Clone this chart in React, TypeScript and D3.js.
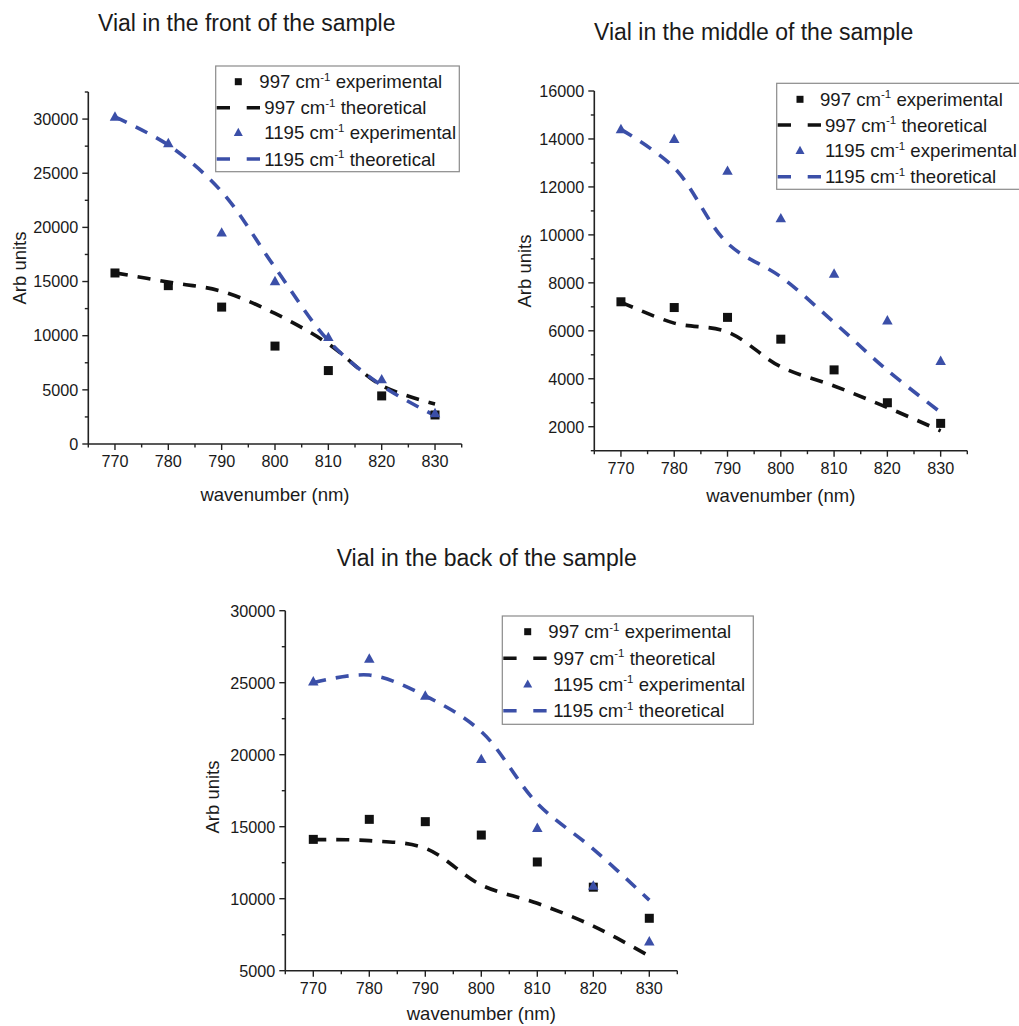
import React from "react";
import * as d3 from "d3";

// ---------- data ----------
const wavelengths = [770, 780, 790, 800, 810, 820, 830];
const xMajorTicks = [770, 780, 790, 800, 810, 820, 830];
const xMinorTicks = [765, 775, 785, 795, 805, 815, 825, 835];

const panelTitles = [
  "Vial in the front of the sample",
  "Vial in the middle of the sample",
  "Vial in the back of the sample",
];

const xAxisTitle = "wavenumber (nm)";
const yAxisTitle = "Arb units";

const legendNumbers = ["997", "997", "1195", "1195"];
const legendSuffix = [" experimental", " theoretical", " experimental", " theoretical"];

// Front
const frontExp997 = [15790, 14620, 12640, 9040, 6780, 4440, 2680];
const frontTheo997 = [15800, 14950, 14100, 12050, 9250, 5400, 3700];
const frontExp1195 = [30200, 27750, 19500, 15000, 9850, 5950, 2830];
const frontTheo1195 = [30200, 27600, 23300, 16300, 9550, 5400, 2620];
const frontYMajor = [0, 5000, 10000, 15000, 20000, 25000, 30000];
const frontYMinor = [2500, 7500, 12500, 17500, 22500, 27500, 32500];

// Middle
const middleExp997 = [7210, 6970, 6560, 5650, 4370, 3000, 2140];
const middleTheo997 = [7200, 6320, 5950, 4500, 3700, 2800, 1830];
const middleExp1195 = [14400, 13990, 12660, 10680, 8370, 6420, 4730];
const middleTheo1195 = [14400, 12800, 9650, 8250, 6350, 4350, 2600];
const middleYMajor = [2000, 4000, 6000, 8000, 10000, 12000, 14000, 16000];
const middleYMinor = [1000, 3000, 5000, 7000, 9000, 11000, 13000, 15000];

// Back
const backExp997 = [14120, 15510, 15350, 14420, 12550, 10800, 8640];
const backTheo997 = [14100, 14030, 13500, 10950, 9680, 8100, 6020];
const backExp1195 = [25070, 26650, 24080, 19680, 14900, 10880, 7010];
const backTheo1195 = [25000, 25530, 24080, 21600, 16620, 13450, 9900];
const backYMajor = [5000, 10000, 15000, 20000, 25000, 30000];
const backYMinor = [7500, 12500, 17500, 22500, 27500];

// ---------- styles ----------
const BLUE = "#3b4fa8";
const BLACK = "#111111";
const TEXT = "#1a1a1a";
const FONT = "'Liberation Sans', Arial, Helvetica, sans-serif";

type PanelCfg = {
  title: string;
  titleX: number;
  titleY: number;
  x0: number;
  x1: number;
  yBottom: number;
  yTop: number;
  yDomain: [number, number];
  yMajor: number[];
  yMinor: number[];
  exp997: number[];
  theo997: number[];
  exp1195: number[];
  theo1195: number[];
  xLabelY: number;
  yLabelX: number;
  yLabelY: number;
  legend: {
    left: number;
    top: number;
    right: number;
    bottom: number;
    rows: number[];
    symX: number;
    textX: number;
  };
};

const panels: PanelCfg[] = [
  {
    title: panelTitles[0],
    titleX: 98,
    titleY: 31,
    x0: 88.3,
    x1: 461.7,
    yBottom: 444,
    yTop: 92,
    yDomain: [0, 32500],
    yMajor: frontYMajor,
    yMinor: frontYMinor,
    exp997: frontExp997,
    theo997: frontTheo997,
    exp1195: frontExp1195,
    theo1195: frontTheo1195,
    xLabelY: 501,
    yLabelX: 19,
    yLabelY: 268,
    legend: {
      left: 215.7,
      top: 66,
      right: 459.3,
      bottom: 171.7,
      rows: [81.7, 107.7, 132.7, 159],
      symX: 238.3,
      textX: 259.3,
    },
  },
  {
    title: panelTitles[1],
    titleX: 594,
    titleY: 39.5,
    x0: 594.3,
    x1: 967.3,
    yBottom: 450.7,
    yTop: 91,
    yDomain: [1000, 16000],
    yMajor: middleYMajor,
    yMinor: middleYMinor,
    exp997: middleExp997,
    theo997: middleTheo997,
    exp1195: middleExp1195,
    theo1195: middleTheo1195,
    xLabelY: 501.7,
    yLabelX: 524,
    yLabelY: 271,
    legend: {
      left: 776.7,
      top: 83.3,
      right: 1030,
      bottom: 189.3,
      rows: [99.3, 125, 150.7, 176.7],
      symX: 800,
      textX: 820,
    },
  },
  {
    title: panelTitles[2],
    titleX: 336.7,
    titleY: 565.7,
    x0: 285.3,
    x1: 677.3,
    yBottom: 970.7,
    yTop: 610.7,
    yDomain: [5000, 30000],
    yMajor: backYMajor,
    yMinor: backYMinor,
    exp997: backExp997,
    theo997: backTheo997,
    exp1195: backExp1195,
    theo1195: backTheo1195,
    xLabelY: 1020,
    yLabelX: 212,
    yLabelY: 797,
    legend: {
      left: 502.3,
      top: 616,
      right: 753.3,
      bottom: 724.3,
      rows: [631.7, 658.3, 684.3, 710.7],
      symX: 527.7,
      textX: 548.3,
    },
  },
];

const DASH = "13 10";
const LINE_W = 3.6;

function Square({ cx, cy, s = 9 }: { cx: number; cy: number; s?: number }) {
  return <rect x={cx - s / 2} y={cy - s / 2} width={s} height={s} fill={BLACK} />;
}

function Triangle({ cx, cy, w = 10.5 }: { cx: number; cy: number; w?: number }) {
  const h = w * 0.9;
  const d = `M${cx},${cy - h * 0.6}L${cx + w / 2},${cy + h * 0.4}L${cx - w / 2},${cy + h * 0.4}Z`;
  return <path d={d} fill={BLUE} />;
}

function LegendLabel({ x, y, num, rest }: { x: number; y: number; num: string; rest: string }) {
  return (
    <text x={x} y={y} fontSize={18.6} fill={TEXT} fontFamily={FONT}>
      <tspan>{num} cm</tspan>
      <tspan fontSize={11.5} dy={-7.5}>-1</tspan>
      <tspan dy={7.5}>{rest}</tspan>
    </text>
  );
}

function Panel({ cfg }: { cfg: PanelCfg }) {
  const x = d3.scaleLinear().domain([765, 835]).range([cfg.x0, cfg.x1]);
  const y = d3.scaleLinear().domain(cfg.yDomain).range([cfg.yBottom, cfg.yTop]);
  const line = d3
    .line<number>()
    .x((_, i) => x(wavelengths[i]))
    .y((d) => y(d))
    .curve(d3.curveCatmullRom.alpha(0.5));

  const lg = cfg.legend;
  const capHalf = 6.6;

  return (
    <g>
      <text x={cfg.titleX} y={cfg.titleY} fontSize={23} fill={TEXT} fontFamily={FONT}>
        {cfg.title}
      </text>

      {/* axes */}
      <line x1={cfg.x0} x2={cfg.x0} y1={cfg.yTop} y2={cfg.yBottom} stroke="#222" strokeWidth={1.6} />
      <line x1={cfg.x0} x2={cfg.x1} y1={cfg.yBottom} y2={cfg.yBottom} stroke="#222" strokeWidth={1.6} />

      {xMajorTicks.map((t) => (
        <g key={"xm" + t}>
          <line x1={x(t)} x2={x(t)} y1={cfg.yBottom} y2={cfg.yBottom + 6} stroke="#222" strokeWidth={1.4} />
          <text
            x={x(t)}
            y={cfg.yBottom + 23}
            fontSize={16.2}
            textAnchor="middle"
            fill={TEXT}
            fontFamily={FONT}
          >
            {t}
          </text>
        </g>
      ))}
      {xMinorTicks.map((t) => (
        <line key={"xn" + t} x1={x(t)} x2={x(t)} y1={cfg.yBottom} y2={cfg.yBottom + 3.5} stroke="#222" strokeWidth={1.4} />
      ))}
      {cfg.yMajor.map((t) => (
        <g key={"ym" + t}>
          <line x1={cfg.x0 - 6} x2={cfg.x0} y1={y(t)} y2={y(t)} stroke="#222" strokeWidth={1.4} />
          <text
            x={cfg.x0 - 10}
            y={y(t) + 5.8}
            fontSize={16.2}
            textAnchor="end"
            fill={TEXT}
            fontFamily={FONT}
          >
            {t}
          </text>
        </g>
      ))}
      {cfg.yMinor.map((t) => (
        <line key={"yn" + t} x1={cfg.x0 - 3.5} x2={cfg.x0} y1={y(t)} y2={y(t)} stroke="#222" strokeWidth={1.4} />
      ))}

      <text
        x={(cfg.x0 + cfg.x1) / 2}
        y={cfg.xLabelY}
        fontSize={18.5}
        textAnchor="middle"
        fill={TEXT}
        fontFamily={FONT}
      >
        {xAxisTitle}
      </text>
      <text
        transform={`translate(${cfg.yLabelX},${cfg.yLabelY}) rotate(-90)`}
        fontSize={18.5}
        textAnchor="middle"
        dominantBaseline="central"
        fill={TEXT}
        fontFamily={FONT}
      >
        {yAxisTitle}
      </text>

      {/* theoretical lines */}
      <path d={line(cfg.theo997) || ""} fill="none" stroke={BLACK} strokeWidth={LINE_W} strokeDasharray={DASH} />
      <path d={line(cfg.theo1195) || ""} fill="none" stroke={BLUE} strokeWidth={LINE_W} strokeDasharray={DASH} />

      {/* experimental markers */}
      {cfg.exp997.map((v, i) => (
        <Square key={"s" + i} cx={x(wavelengths[i])} cy={y(v)} />
      ))}
      {cfg.exp1195.map((v, i) => (
        <Triangle key={"t" + i} cx={x(wavelengths[i])} cy={y(v)} />
      ))}

      {/* legend */}
      <rect
        x={lg.left}
        y={lg.top}
        width={lg.right - lg.left}
        height={lg.bottom - lg.top}
        fill="white"
        stroke="#8a8a8a"
        strokeWidth={1.2}
      />
      <Square cx={lg.symX} cy={lg.rows[0]} s={7} />
      <line
        x1={lg.left + 1}
        x2={lg.left + 44.5}
        y1={lg.rows[1]}
        y2={lg.rows[1]}
        stroke={BLACK}
        strokeWidth={LINE_W}
        strokeDasharray="13.3 16.7"
      />
      <Triangle cx={lg.symX} cy={lg.rows[2]} w={9} />
      <line
        x1={lg.left + 1}
        x2={lg.left + 44.5}
        y1={lg.rows[3]}
        y2={lg.rows[3]}
        stroke={BLUE}
        strokeWidth={LINE_W}
        strokeDasharray="13.3 16.7"
      />
      {lg.rows.map((ry, i) => (
        <LegendLabel
          key={"l" + i}
          x={lg.textX + (i === 0 ? 0 : 5)}
          y={ry + capHalf}
          num={legendNumbers[i]}
          rest={legendSuffix[i]}
        />
      ))}
    </g>
  );
}

export default function App() {
  return (
    <svg
      width={1019}
      height={1026}
      style={{ position: "absolute", left: 0, top: 0, background: "white" }}
    >
      <rect x={0} y={0} width={1019} height={1026} fill="white" />
      {panels.map((p, i) => (
        <Panel key={i} cfg={p} />
      ))}
    </svg>
  );
}
